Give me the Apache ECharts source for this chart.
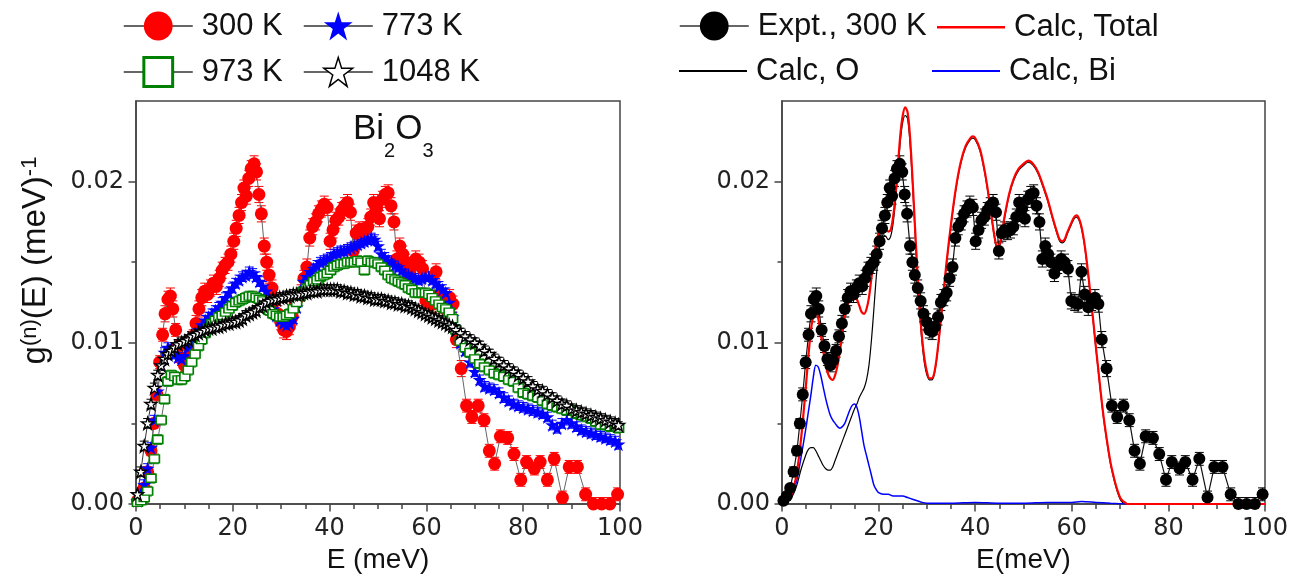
<!DOCTYPE html>
<html>
<head>
<meta charset="utf-8">
<script src="https://cdn.jsdelivr.net/npm/echarts@6/dist/echarts.min.js"></script>
<style>
html, body { margin: 0; padding: 0; background: #fff; }
#chart { width: 1302px; height: 581px; }
</style>
</head>
<body>
<div id="chart"></div>
<script>
// Normalized phonon density of states g(n)(E) of Bi2O3, E in meV.

// 300 K measurement: [E, g, error]
const expt300K = [
  [0.3,0.0002,0.0002],[1.0,0.0005,0.0002],[1.7,0.0010,0.0002],[2.4,0.0020,0.0003],[3.1,0.0033,0.0003],
  [3.7,0.0050,0.0003],[4.3,0.0068,0.0004],[4.9,0.0088,0.0004],[5.5,0.0105,0.0004],[6.0,0.0118,0.0005],
  [6.6,0.0127,0.0005],[7.1,0.0129,0.0005],[7.6,0.0121,0.0005],[8.2,0.0108,0.0004],[8.8,0.0098,0.0004],
  [9.4,0.0090,0.0004],[10.0,0.0086,0.0004],[10.6,0.0089,0.0004],[11.2,0.0095,0.0004],[11.8,0.0104,0.0004],
  [12.4,0.0112,0.0005],[13.0,0.0121,0.0005],[13.6,0.0128,0.0005],[14.2,0.0132,0.0005],[14.8,0.0130,0.0005],
  [15.4,0.0134,0.0005],[16.0,0.0137,0.0005],[16.6,0.0135,0.0005],[17.2,0.0140,0.0005],[17.8,0.0145,0.0005],
  [18.4,0.0148,0.0005],[19.0,0.0150,0.0005],[19.6,0.0155,0.0005],[20.2,0.0163,0.0005],[20.7,0.0171,0.0005],
  [21.3,0.0179,0.0005],[21.8,0.0187,0.0005],[22.3,0.0196,0.0005],[22.8,0.0191,0.0005],[23.3,0.0202,0.0005],
  [23.8,0.0208,0.0005],[24.4,0.0211,0.0005],[24.9,0.0206,0.0005],[25.4,0.0192,0.0005],[25.9,0.0180,0.0005],
  [26.5,0.0160,0.0005],[27.0,0.0150,0.0005],[27.5,0.0142,0.0005],[28.1,0.0134,0.0005],[28.7,0.0126,0.0005],
  [29.3,0.0118,0.0005],[29.9,0.0113,0.0005],[30.5,0.0108,0.0005],[31.1,0.0107,0.0005],[31.7,0.0110,0.0005],
  [32.3,0.0116,0.0005],[32.9,0.0125,0.0005],[33.5,0.0128,0.0005],[34.1,0.0131,0.0005],[34.7,0.0140,0.0005],
  [35.3,0.0147,0.0005],[35.9,0.0165,0.0005],[36.5,0.0172,0.0005],[37.1,0.0175,0.0005],[37.7,0.0180,0.0005],
  [38.3,0.0183,0.0005],[38.9,0.0186,0.0005],[39.5,0.0184,0.0005],[40.1,0.0163,0.0005],[40.7,0.0170,0.0005],
  [41.3,0.0176,0.0005],[41.9,0.0178,0.0005],[42.5,0.0182,0.0005],[43.1,0.0185,0.0005],[43.7,0.0187,0.0005],
  [44.3,0.0181,0.0005],[44.9,0.0157,0.0005],[45.5,0.0168,0.0005],[46.1,0.0170,0.0005],[46.7,0.0169,0.0005],
  [47.3,0.0170,0.0005],[47.9,0.0172,0.0005],[48.5,0.0178,0.0005],[49.1,0.0187,0.0005],[49.7,0.0183,0.0005],
  [50.3,0.0177,0.0005],[50.9,0.0189,0.0005],[51.5,0.0192,0.0005],[52.1,0.0193,0.0005],[52.7,0.0185,0.0005],
  [53.3,0.0175,0.0005],[53.9,0.0152,0.0005],[54.5,0.0160,0.0005],[55.1,0.0155,0.0005],[55.7,0.0150,0.0005],
  [56.4,0.0143,0.0005],[57.1,0.0148,0.0005],[57.8,0.0152,0.0005],[58.5,0.0150,0.0005],[59.2,0.0146,0.0005],
  [59.9,0.0126,0.0005],[60.6,0.0125,0.0005],[61.3,0.0124,0.0005],[62.0,0.0144,0.0005],[62.7,0.0130,0.0005],
  [63.4,0.0122,0.0005],[64.1,0.0125,0.0005],[64.8,0.0128,0.0005],[65.5,0.0124,0.0005],[66.2,0.0102,0.0005],
  [67.2,0.0084,0.0005],[68.3,0.0061,0.0004],[69.4,0.0054,0.0004],[70.7,0.0061,0.0004],[71.9,0.0052,0.0004],
  [73.0,0.0033,0.0004],[74.1,0.0025,0.0004],[75.3,0.0042,0.0004],[76.8,0.0041,0.0004],[78.1,0.0031,0.0004],
  [79.5,0.0015,0.0004],[80.7,0.0026,0.0004],[82.3,0.0022,0.0004],[83.5,0.0026,0.0004],[85.0,0.0015,0.0004],
  [86.4,0.0028,0.0004],[88.1,0.0004,0.0004],[89.5,0.0023,0.0004],[91.2,0.0023,0.0004],[92.9,0.0006,0.0004],
  [94.5,0.0000,0.0004],[96.2,0.0000,0.0004],[97.9,0.0000,0.0004],[99.5,0.0006,0.0004]
];

// Energy bins shared by the high-temperature runs
const hotE = [
  0.3,1.0,1.7,2.4,3.1,3.8,4.5,5.2,5.9,6.6,
  7.3,8.0,8.7,9.4,10.1,10.8,11.5,12.2,12.9,13.6,
  14.3,15.0,15.7,16.4,17.1,17.8,18.5,19.2,19.9,20.6,
  21.3,22.0,22.7,23.4,24.1,24.8,25.5,26.2,26.9,27.6,
  28.3,29.0,29.7,30.4,31.1,31.8,32.5,33.2,33.9,34.6,
  35.3,36.0,36.7,37.4,38.1,38.8,39.5,40.2,40.9,41.6,
  42.3,43.0,43.7,44.4,45.1,45.8,46.5,47.2,47.9,48.6,
  49.3,50.0,50.7,51.4,52.1,52.8,53.5,54.2,54.9,55.6,
  56.3,57.0,57.7,58.4,59.1,59.8,60.5,61.2,61.9,62.6,
  63.3,64.0,64.7,65.4,66.1,67,68,69,70,71,
  72,73,74,75,76,77,78,79,80,81,
  82,83,84,85,86,87,88,89,90,91,
  92,93,94,95,96,97,98,99,99.7
];

const g773 = [
  0.0002,0.0006,0.0012,0.0022,0.0035,0.0052,0.0070,0.0086,0.0094,0.0097,
  0.0096,0.0093,0.0091,0.0090,0.0092,0.0097,0.0101,0.0104,0.0108,0.0111,
  0.0114,0.0116,0.0118,0.0120,0.0122,0.0125,0.0128,0.0131,0.0134,0.0137,
  0.0139,0.0141,0.0142,0.0144,0.0143,0.0141,0.0138,0.0135,0.0132,0.0126,
  0.0121,0.0117,0.0114,0.0112,0.0111,0.0112,0.0115,0.0122,0.0131,0.0138,
  0.0141,0.0144,0.0146,0.0148,0.0150,0.0151,0.0152,0.0153,0.0155,0.0156,
  0.0157,0.0157,0.0158,0.0159,0.0160,0.0161,0.0162,0.0163,0.0164,0.0165,
  0.0164,0.0160,0.0155,0.0153,0.0151,0.0150,0.0148,0.0147,0.0145,0.0143,
  0.0142,0.0141,0.0140,0.0139,0.0140,0.0141,0.0141,0.0139,0.0137,0.0135,
  0.0133,0.0131,0.0125,0.0116,0.0108,0.0100,0.0095,0.0088,0.0082,0.0077,
  0.0073,0.0072,0.0071,0.0069,0.0066,0.0064,0.0062,0.0061,0.0060,0.0059,
  0.0058,0.0057,0.0056,0.0054,0.0049,0.0047,0.0050,0.0052,0.0050,0.0048,
  0.0046,0.0045,0.0044,0.0043,0.0042,0.0041,0.0040,0.0039,0.0037
];

const g973 = [
  0.0001,0.0002,0.0004,0.0008,0.0016,0.0028,0.0040,0.0052,0.0065,0.0076,
  0.0080,0.0079,0.0077,0.0077,0.0079,0.0083,0.0088,0.0093,0.0098,0.0102,
  0.0106,0.0109,0.0112,0.0114,0.0116,0.0117,0.0119,0.0121,0.0123,0.0125,
  0.0126,0.0127,0.0128,0.0129,0.0129,0.0128,0.0127,0.0126,0.0123,0.0120,
  0.0118,0.0117,0.0116,0.0116,0.0117,0.0118,0.0121,0.0125,0.0129,0.0132,
  0.0134,0.0136,0.0138,0.0139,0.0141,0.0142,0.0143,0.0145,0.0147,0.0148,
  0.0149,0.0149,0.0150,0.0150,0.0150,0.0151,0.0150,0.0145,0.0151,0.0150,
  0.0150,0.0149,0.0147,0.0145,0.0142,0.0140,0.0139,0.0138,0.0137,0.0136,
  0.0134,0.0133,0.0131,0.0131,0.0131,0.0131,0.0130,0.0128,0.0126,0.0124,
  0.0122,0.0121,0.0119,0.0115,0.0108,0.0101,0.0097,0.0094,0.0090,0.0087,
  0.0085,0.0083,0.0081,0.0080,0.0079,0.0077,0.0076,0.0072,0.0069,0.0068,
  0.0067,0.0066,0.0064,0.0062,0.0061,0.0060,0.0059,0.0058,0.0058,0.0056,
  0.0055,0.0054,0.0053,0.0051,0.0049,0.0049,0.0048,0.0048,0.0047
];

const g1048 = [
  0.0006,0.0020,0.0036,0.0050,0.0062,0.0072,0.0080,0.0086,0.0090,0.0093,
  0.0095,0.0097,0.0099,0.0100,0.0101,0.0102,0.0104,0.0105,0.0106,0.0107,
  0.0108,0.0109,0.0109,0.0110,0.0110,0.0111,0.0112,0.0112,0.0113,0.0113,
  0.0114,0.0115,0.0117,0.0118,0.0119,0.0120,0.0122,0.0123,0.0125,0.0126,
  0.0127,0.0127,0.0128,0.0128,0.0129,0.0129,0.0130,0.0130,0.0130,0.0131,
  0.0131,0.0132,0.0132,0.0132,0.0133,0.0133,0.0133,0.0133,0.0133,0.0133,
  0.0132,0.0132,0.0131,0.0131,0.0130,0.0130,0.0129,0.0129,0.0128,0.0128,
  0.0127,0.0127,0.0127,0.0126,0.0126,0.0125,0.0125,0.0124,0.0124,0.0123,
  0.0123,0.0122,0.0121,0.0120,0.0119,0.0118,0.0117,0.0116,0.0115,0.0114,
  0.0113,0.0112,0.0111,0.0110,0.0108,0.0106,0.0104,0.0102,0.0100,0.0098,
  0.0095,0.0093,0.0090,0.0088,0.0086,0.0084,0.0082,0.0080,0.0078,0.0076,
  0.0073,0.0071,0.0070,0.0068,0.0066,0.0064,0.0062,0.0061,0.0059,0.0058,
  0.0057,0.0056,0.0055,0.0054,0.0053,0.0052,0.0051,0.0050,0.0049
];

// error bar half-heights of the high-temperature runs
const err773 = 0.0003, err973 = 0.0003, err1048 = 0.0003;

// Calculated partial and total DOS: [E, g]
const calcTotal = [
  [0,0],[1,0.0001],[2,0.0006],[3,0.0018],[4,0.0042],[5,0.0075],[5.5,0.0093],[6,0.0108],[6.5,0.0117],[7,0.0119],
  [7.5,0.0115],[8,0.0106],[8.5,0.0096],[9,0.0087],[9.5,0.0081],[10,0.0078],[10.5,0.0077],[11,0.0080],[11.5,0.0086],[12,0.0095],
  [12.5,0.0106],[13,0.0116],[13.5,0.0123],[14,0.0127],[14.5,0.0129],[15,0.0129],[15.5,0.0127],[16,0.0123],[16.5,0.0119],[17,0.0118],
  [17.5,0.0121],[18,0.0128],[18.5,0.0140],[19,0.0152],[19.5,0.0162],[20,0.0168],[20.5,0.0172],[21,0.0173],[21.5,0.0171],[22,0.0169],
  [22.5,0.0170],[23,0.0178],[23.5,0.0192],[24,0.0210],[24.5,0.0229],[25,0.0241],[25.5,0.0246],[26,0.0243],[26.5,0.0228],[27,0.0203],
  [27.5,0.0174],[28,0.0146],[28.5,0.0122],[29,0.0103],[29.5,0.0090],[30,0.0082],[30.5,0.0078],[31,0.0078],[31.5,0.0081],[32,0.0090],
  [32.5,0.0103],[33,0.0118],[33.5,0.0133],[34,0.0148],[35,0.0174],[36,0.0196],[37,0.0212],[38,0.0222],[39,0.0227],[39.5,0.0228],
  [40,0.0227],[41,0.0220],[42,0.0206],[43,0.0187],[43.5,0.0176],[44,0.0166],[44.5,0.0160],[45,0.0161],[45.5,0.0167],[46,0.0177],
  [47,0.0192],[48,0.0202],[49,0.0208],[50,0.0211],[51,0.0213],[52,0.0211],[53,0.0206],[54,0.0198],[55,0.0189],[56,0.0178],
  [57,0.0168],[57.5,0.0164],[58,0.0163],[58.5,0.0164],[59,0.0168],[60,0.0175],[60.5,0.0178],[61,0.0179],[61.5,0.0177],[62,0.0172],
  [62.5,0.0164],[63,0.0153],[63.5,0.0140],[64,0.0126],[64.5,0.0112],[65,0.0097],[65.5,0.0083],[66,0.0069],[66.5,0.0056],[67,0.0045],
  [67.5,0.0035],[68,0.0026],[68.5,0.0019],[69,0.0013],[69.5,0.0008],[70,0.0004],[70.5,0.0002],[71,0.0001],[71.5,0],[100,0]
];

const calcO = [
  [0,0],[1,0.0001],[2,0.0004],[3,0.0011],[4,0.0022],[5,0.0031],[5.5,0.0034],[6,0.0035],[6.5,0.0035],[7,0.0033],
  [7.5,0.0030],[8,0.0027],[8.5,0.0024],[9,0.0022],[9.5,0.0021],[10,0.0021],[10.5,0.0023],[11,0.0027],[11.5,0.0031],[12,0.0035],
  [12.5,0.0039],[13,0.0043],[13.5,0.0047],[14,0.0051],[14.5,0.0055],[15,0.0059],[15.5,0.0062],[16,0.0066],[16.5,0.0069],[17,0.0072],
  [17.5,0.0077],[18,0.0086],[18.5,0.0101],[19,0.0120],[19.5,0.0140],[20,0.0155],[20.5,0.0164],[21,0.0167],[21.5,0.0166],[22,0.0164],
  [22.5,0.0166],[23,0.0174],[23.5,0.0188],[24,0.0206],[24.5,0.0225],[25,0.0237],[25.5,0.0241],[26,0.0239],[26.5,0.0224],[27,0.0200],
  [27.5,0.0171],[28,0.0143],[28.5,0.0119],[29,0.0100],[29.5,0.0087],[30,0.0080],[30.5,0.0077],[31,0.0077],[31.5,0.0080],[32,0.0089],
  [32.5,0.0102],[33,0.0117],[33.5,0.0132],[34,0.0147],[35,0.0173],[36,0.0195],[37,0.0211],[38,0.0221],[39,0.0226],[39.5,0.0227],
  [40,0.0226],[41,0.0219],[42,0.0205],[43,0.0186],[43.5,0.0175],[44,0.0165],[44.5,0.0159],[45,0.0160],[45.5,0.0166],[46,0.0176],
  [47,0.0191],[48,0.0201],[49,0.0207],[50,0.0210],[51,0.0212],[52,0.0210],[53,0.0205],[54,0.0197],[55,0.0188],[56,0.0177],
  [57,0.0167],[57.5,0.0163],[58,0.0162],[58.5,0.0163],[59,0.0167],[60,0.0174],[60.5,0.0177],[61,0.0178],[61.5,0.0176],[62,0.0171],
  [62.5,0.0163],[63,0.0152],[63.5,0.0139],[64,0.0125],[64.5,0.0111],[65,0.0096],[65.5,0.0082],[66,0.0068],[66.5,0.0055],[67,0.0044],
  [67.5,0.0034],[68,0.0025],[68.5,0.0018],[69,0.0012],[69.5,0.0007],[70,0.0003],[70.5,0.0001],[71,0],[100,0]
];

const calcBi = [
  [0,0],[1,0.0001],[2,0.0005],[3,0.0014],[4,0.0030],[5,0.0048],[5.5,0.0058],[6,0.0068],[6.5,0.0079],[7,0.0086],
  [7.5,0.0085],[8,0.0080],[8.5,0.0073],[9,0.0066],[9.5,0.0060],[10,0.0055],[10.5,0.0052],[11,0.0050],[11.5,0.0048],[12,0.0047],
  [12.5,0.0048],[13,0.0050],[13.5,0.0054],[14,0.0058],[14.5,0.0061],[15,0.0062],[15.5,0.0060],[16,0.0054],[16.5,0.0045],[17,0.0036],
  [17.5,0.0030],[18,0.0024],[18.5,0.0018],[19,0.0012],[19.5,0.0009],[20,0.0007],[21,0.0006],[22,0.0006],[23,0.0005],[24,0.0005],
  [25,0.0005],[26,0.0004],[27,0.0003],[28,0.0002],[29,0.0001],[30,0.00005],[35,0.00005],[40,0.0001],[45,0.00005],[50,0.00005],
  [55,0.0001],[60,0.0001],[62,0.00015],[65,0.0001],[68,0.00005],[70,0.00002],[72,0]
];

const xTicks = [0, 20, 40, 60, 80, 100];
const yTickValues = [0, 0.01, 0.02];
const yMinorValues = [0.005, 0.015];

const SANS = "'Liberation Sans', Arial, sans-serif";
const TICKFONT = "'DejaVu Sans', sans-serif";
const AXIS_COLOR = '#444';
const STAR = 'path://M50,0 L61.8,35.5 L100,35.5 L69.1,57.4 L80.9,95 L50,72 L19.1,95 L30.9,57.4 L0,35.5 L38.2,35.5 Z';

function errorBars(color) {
  return function (params, api) {
    const x = api.value(0), y = api.value(1), e = api.value(2);
    const hi = api.coord([x, y + e]);
    const lo = api.coord([x, y - e]);
    const w = 4.5;
    const style = { stroke: color, lineWidth: 1 };
    return {
      type: 'group',
      children: [
        { type: 'line', shape: { x1: hi[0], y1: hi[1], x2: lo[0], y2: lo[1] }, style },
        { type: 'line', shape: { x1: hi[0] - w, y1: hi[1], x2: hi[0] + w, y2: hi[1] }, style },
        { type: 'line', shape: { x1: lo[0] - w, y1: lo[1], x2: lo[0] + w, y2: lo[1] }, style }
      ]
    };
  };
}

function errSeries(grid, data, color) {
  return {
    type: 'custom', xAxisIndex: grid, yAxisIndex: grid * 2, clip: true,
    renderItem: errorBars(color), encode: { x: 0, y: 1 }, data: data,
    silent: true
  };
}

const pairs = (g) => hotE.map((e, i) => [e, g[i]]);
const triples = (g, err) => hotE.map((e, i) => [e, g[i], err]);

function xAxisFor(grid, name) {
  return {
    type: 'value', gridIndex: grid, min: 0, max: 100, interval: 20,
    axisLine: { show: true, onZero: false, lineStyle: { color: AXIS_COLOR, width: 1.5 } },
    axisTick: { show: true, inside: false, length: 7.5, lineStyle: { color: AXIS_COLOR, width: 1.5 } },
    minorTick: { show: true, splitNumber: 4, length: 5, lineStyle: { color: AXIS_COLOR, width: 1.5 } },
    splitLine: { show: false }, minorSplitLine: { show: false },
    axisLabel: { fontSize: 24, fontFamily: TICKFONT, color: '#222', margin: 13,
      customValues: xTicks },
    name: name, nameLocation: 'middle', nameGap: 40,
    nameTextStyle: { fontSize: 28, fontFamily: SANS, color: '#111' }
  };
}

function yAxesFor(grid, withName) {
  const main = {
    type: 'value', gridIndex: grid, position: 'left', min: 0, max: 0.025, interval: 0.005,
    axisLine: { show: true, onZero: false, lineStyle: { color: AXIS_COLOR, width: 1.5 } },
    axisTick: { show: true, inside: false, length: 7.5, customValues: yTickValues,
      lineStyle: { color: AXIS_COLOR, width: 1.5 } },
    splitLine: { show: false },
    axisLabel: { fontSize: 24, fontFamily: TICKFONT, color: '#222', margin: 12,
      customValues: yTickValues, formatter: (v) => v.toFixed(2) }
  };
  if (withName) {
    main.name = 'g{sup|(n)}(E) (meV){sup|-1}';
    main.nameLocation = 'middle';
    main.nameRotate = 90;
    main.nameGap = 80;
    main.nameTextStyle = {
      fontSize: 33, fontFamily: SANS, color: '#111', lineHeight: 34,
      padding: [0, 0, 0, 84],
      rich: { sup: { fontSize: 22, fontFamily: SANS, color: '#111', lineHeight: 22,
        verticalAlign: 'top', padding: [0, 0, 26, 0] } }
    };
  }
  const minor = {
    type: 'value', gridIndex: grid, position: 'left', offset: 0, min: 0, max: 0.025, interval: 0.005,
    axisLine: { show: false },
    axisTick: { show: true, inside: false, length: 4.5, customValues: yMinorValues,
      lineStyle: { color: AXIS_COLOR, width: 1.5 } },
    axisLabel: { show: false }, splitLine: { show: false }
  };
  return [main, minor];
}

const legendText = { fontSize: 31, fontFamily: SANS, color: '#111', lineHeight: 36, padding: [0, 0, 0, 4] };

function symbolLegend(name, left, cy, extra) {
  return {
    data: [Object.assign({ name: name }, extra || {})],
    left: left, top: cy - 18, padding: 0, itemWidth: 69, itemHeight: 36,
    selectedMode: false, lineStyle: { color: '#333', width: 1.5 },
    textStyle: legendText
  };
}

function lineLegend(name, left, cy, thick, width) {
  return {
    data: [{ name: name, icon: 'rect' }],
    left: left, top: cy - 18 + thick / 2, padding: 0, itemWidth: width, itemHeight: thick,
    selectedMode: false, textStyle: legendText
  };
}

const chart = echarts.init(document.getElementById('chart'), null, { renderer: 'canvas' });

chart.setOption({
  animation: false,
  backgroundColor: '#fff',
  title: [{
    text: '{m|Bi}{s|2}{m|O}{s|3}', left: 353, top: 112, padding: 0,
    textStyle: {
      fontFamily: SANS, fontSize: 35, fontWeight: 'normal', color: '#111', lineHeight: 36,
      rich: {
        m: { fontFamily: SANS, fontSize: 35, color: '#111', lineHeight: 36, verticalAlign: 'top' },
        s: { fontFamily: SANS, fontSize: 20, color: '#111', lineHeight: 20,
          padding: [29, 0, 0, 0], verticalAlign: 'top' }
      }
    }
  }],
  legend: [
    symbolLegend('300 K', 123, 26),
    symbolLegend('773 K', 303, 26),
    symbolLegend('973 K', 123, 72, { itemStyle: { borderWidth: 3 } }),
    symbolLegend('1048 K', 303, 72, { itemStyle: { borderWidth: 1.5 } }),
    symbolLegend('Expt., 300 K', 679, 26),
    lineLegend('Calc, Total', 937, 26, 2.5, 68),
    lineLegend('Calc, O', 679, 70, 2, 68),
    lineLegend('Calc, Bi', 932, 70, 2, 68)
  ],
  grid: [
    { left: 136, top: 101, width: 484, height: 403, show: true, borderColor: AXIS_COLOR, borderWidth: 1.5, outerBoundsMode: 'none' },
    { left: 782, top: 101, width: 483, height: 403, show: true, borderColor: AXIS_COLOR, borderWidth: 1.5, outerBoundsMode: 'none' }
  ],
  xAxis: [xAxisFor(0, 'E (meV)'), xAxisFor(1, 'E(meV)')],
  yAxis: [].concat(yAxesFor(0, true), yAxesFor(1, false)),
  series: [
    // left panel: temperature series
    errSeries(0, expt300K, '#ff0000'),
    {
      name: '300 K', type: 'line', xAxisIndex: 0, yAxisIndex: 0,
      data: expt300K.map(p => [p[0], p[1]]),
      symbol: 'circle', symbolSize: 13, showAllSymbol: true,
      itemStyle: { color: '#ff0000' }, lineStyle: { color: '#666', width: 1 },
      emphasis: { disabled: true }
    },
    errSeries(0, triples(g773, err773), '#0000ff'),
    {
      name: '773 K', type: 'line', xAxisIndex: 0, yAxisIndex: 0, data: pairs(g773),
      symbol: STAR, symbolSize: 14, showAllSymbol: true,
      itemStyle: { color: '#0000ff' }, lineStyle: { color: '#666', width: 1 },
      emphasis: { disabled: true }
    },
    errSeries(0, triples(g973, err973), '#008000'),
    {
      name: '973 K', type: 'line', xAxisIndex: 0, yAxisIndex: 0, data: pairs(g973),
      symbol: 'rect', symbolSize: [10, 8], showAllSymbol: true,
      itemStyle: { color: '#ffffff', borderColor: '#008000', borderWidth: 1.5 },
      lineStyle: { color: '#666', width: 1 },
      emphasis: { disabled: true }
    },
    errSeries(0, triples(g1048, err1048), '#000000'),
    {
      name: '1048 K', type: 'line', xAxisIndex: 0, yAxisIndex: 0, data: pairs(g1048),
      symbol: STAR, symbolSize: 12, showAllSymbol: true,
      itemStyle: { color: '#ffffff', borderColor: '#000000', borderWidth: 1.4 },
      lineStyle: { color: '#333', width: 1 },
      emphasis: { disabled: true }
    },
    // right panel: measurement vs calculation
    errSeries(1, expt300K, '#000000'),
    {
      name: 'Expt., 300 K', type: 'line', xAxisIndex: 1, yAxisIndex: 2,
      data: expt300K.map(p => [p[0], p[1]]),
      symbol: 'circle', symbolSize: 12, showAllSymbol: true,
      itemStyle: { color: '#000000' }, lineStyle: { color: '#111', width: 1.2 },
      emphasis: { disabled: true }
    },
    {
      name: 'Calc, O', type: 'line', xAxisIndex: 1, yAxisIndex: 2, data: calcO,
      symbol: 'none', smooth: 0.3, itemStyle: { color: '#000000' },
      lineStyle: { color: '#000000', width: 1.2 }, emphasis: { disabled: true }
    },
    {
      name: 'Calc, Bi', type: 'line', xAxisIndex: 1, yAxisIndex: 2, data: calcBi,
      symbol: 'none', smooth: 0.3, itemStyle: { color: '#0000ff' },
      lineStyle: { color: '#0000ff', width: 1.5 }, emphasis: { disabled: true }
    },
    {
      name: 'Calc, Total', type: 'line', xAxisIndex: 1, yAxisIndex: 2, data: calcTotal,
      symbol: 'none', smooth: 0.3, itemStyle: { color: '#ff0000' },
      lineStyle: { color: '#ff0000', width: 2.2 }, emphasis: { disabled: true }
    }
  ]
});
</script>
</body>
</html>
